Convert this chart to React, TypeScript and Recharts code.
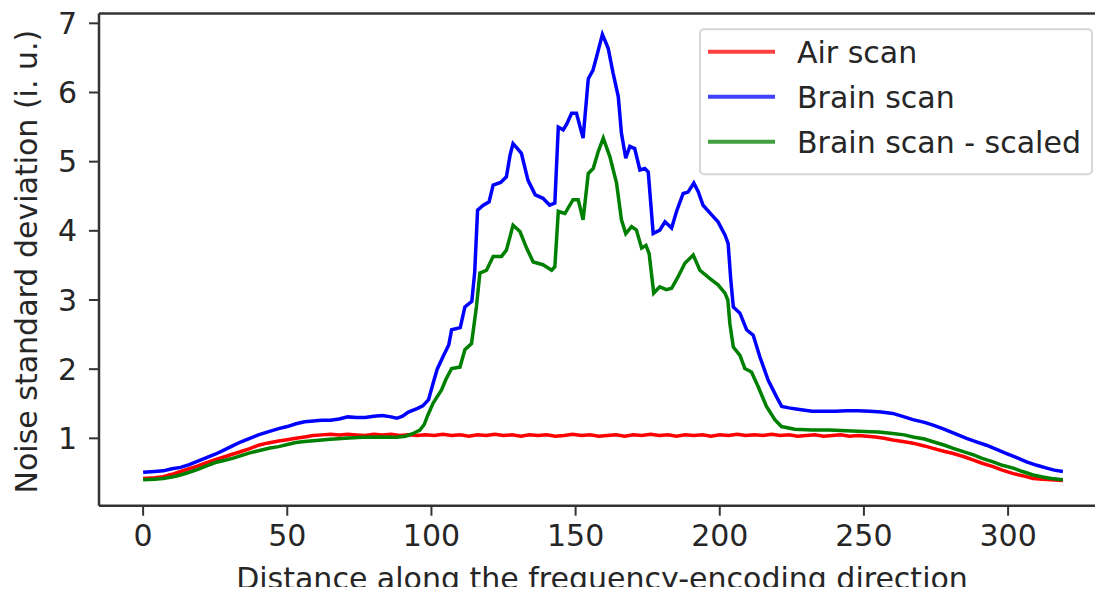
import { Label, Line, LineChart, ReferenceLine, XAxis, YAxis } from "recharts";

// [distance, noise std] pairs
const airScan: [number, number][] = [
  [0, 0.42], [4, 0.43], [7, 0.445], [10, 0.48], [13, 0.52], [16, 0.56], [19, 0.6], [22, 0.65], [25, 0.69], [28, 0.73],
  [31, 0.77], [34, 0.81], [37, 0.85], [40, 0.9], [43, 0.93], [47, 0.96], [50, 0.98], [53, 1.0], [56, 1.02], [59, 1.04],
  [62, 1.05], [65, 1.06], [68, 1.05], [71, 1.06], [74, 1.05], [77, 1.04], [80, 1.06], [83, 1.05], [86, 1.06], [89, 1.04],
  [92, 1.05], [95, 1.04], [98, 1.05], [101, 1.04], [104, 1.06], [107, 1.04], [110, 1.05], [113, 1.03], [116, 1.05], [119, 1.04],
  [122, 1.06], [125, 1.04], [128, 1.05], [131, 1.03], [134, 1.05], [137, 1.04], [140, 1.05], [143, 1.03], [146, 1.04], [149, 1.06],
  [152, 1.04], [155, 1.05], [158, 1.03], [161, 1.04], [164, 1.05], [167, 1.03], [170, 1.05], [173, 1.04], [176, 1.06], [179, 1.04],
  [182, 1.05], [185, 1.03], [188, 1.05], [191, 1.04], [194, 1.05], [197, 1.03], [200, 1.05], [203, 1.04], [206, 1.06], [209, 1.04],
  [212, 1.05], [215, 1.04], [218, 1.06], [221, 1.04], [224, 1.05], [227, 1.03], [230, 1.04], [233, 1.05], [236, 1.03], [239, 1.04],
  [242, 1.05], [245, 1.03], [248, 1.04], [251, 1.03], [254, 1.02], [257, 1.0], [260, 0.975], [264, 0.95], [267, 0.93], [271, 0.89],
  [274, 0.855], [278, 0.81], [281, 0.78], [285, 0.73], [288, 0.686], [291, 0.64], [294.8, 0.59], [298, 0.54], [301.8, 0.49], [305, 0.46],
  [308.7, 0.42], [312, 0.41], [315, 0.4], [319, 0.39],
];

const brainScan: [number, number][] = [
  [0, 0.51], [4, 0.52], [7, 0.53], [10, 0.56], [13, 0.58], [16, 0.62], [19, 0.67], [22, 0.72], [25, 0.77], [28, 0.83],
  [31, 0.89], [34, 0.95], [37, 1.0], [40, 1.05], [43, 1.09], [47, 1.14], [50, 1.17], [53, 1.21], [56, 1.24], [59, 1.25],
  [62, 1.26], [65, 1.26], [68, 1.28], [71, 1.31], [74, 1.3], [77, 1.3], [80, 1.32], [83, 1.33], [86, 1.31], [88, 1.29],
  [90, 1.32], [92, 1.38], [95, 1.43], [97, 1.47], [99, 1.56], [100.6, 1.8], [102, 2.0], [104, 2.18], [106, 2.35], [107, 2.57],
  [110, 2.6], [111.6, 2.9], [114, 2.98], [115, 3.4], [116, 4.3], [118, 4.37], [120, 4.42], [121.4, 4.66], [124, 4.7], [126, 4.78],
  [127.3, 5.1], [128.3, 5.26], [130, 5.18], [131.2, 5.12], [133.5, 4.73], [136, 4.52], [138.7, 4.47], [141, 4.37], [142.8, 4.4], [144, 5.5],
  [145.7, 5.46], [147, 5.55], [148.6, 5.7], [150.3, 5.7], [152.6, 5.34], [154.4, 6.2], [156, 6.32], [157.3, 6.52], [159.3, 6.84], [161.3, 6.64],
  [163, 6.28], [164.8, 5.94], [165.9, 5.41], [167.4, 5.05], [168.8, 5.22], [170.5, 5.19], [172.3, 4.88], [174, 4.9], [175.2, 4.85], [176.9, 3.96],
  [179.2, 4.01], [181, 4.13], [183.3, 4.04], [185, 4.28], [187.3, 4.54], [189, 4.56], [191, 4.69], [192.5, 4.57], [194.2, 4.37], [197.2, 4.23],
  [199.4, 4.13], [201.8, 3.94], [202.9, 3.82], [203.8, 3.3], [204.7, 2.9], [207, 2.81], [209.3, 2.57], [211.6, 2.49], [213.9, 2.18], [216.8, 1.84],
  [219.7, 1.6], [221.5, 1.46], [224, 1.44], [227, 1.42], [232, 1.39], [236, 1.39], [240, 1.39], [244, 1.4], [248, 1.4], [252, 1.39],
  [256, 1.38], [260, 1.36], [264, 1.31], [267, 1.27], [271, 1.23], [274, 1.19], [278, 1.13], [282, 1.06], [285.6, 1.0], [289, 0.95],
  [292.5, 0.9], [296, 0.84], [299.5, 0.78], [303, 0.72], [306.4, 0.66], [310, 0.61], [313.4, 0.57], [316, 0.54], [319, 0.52],
];

const brainScaled: [number, number][] = [
  [0, 0.4], [4, 0.41], [7, 0.42], [10, 0.44], [13, 0.47], [16, 0.51], [19, 0.55], [22, 0.6], [25, 0.65], [28, 0.68],
  [31, 0.71], [34, 0.75], [37, 0.79], [40, 0.82], [44, 0.86], [47, 0.88], [50, 0.91], [53, 0.94], [56, 0.955], [59, 0.965],
  [62, 0.975], [65, 0.985], [70, 1.0], [76, 1.015], [82, 1.02], [88, 1.015], [91, 1.03], [93.7, 1.07], [96, 1.12], [97.5, 1.2],
  [98.5, 1.31], [100.6, 1.51], [103.5, 1.7], [105, 1.85], [107, 2.01], [109.9, 2.03], [111.6, 2.28], [113.9, 2.37], [115.6, 2.9], [116.8, 3.39],
  [119.1, 3.43], [121.4, 3.63], [124.3, 3.63], [126, 3.72], [128.3, 4.08], [130.7, 3.99], [133, 3.75], [135.3, 3.55], [138.7, 3.51], [141.7, 3.43],
  [142.8, 3.48], [144, 4.28], [146.3, 4.25], [149.1, 4.45], [150.9, 4.45], [152.6, 4.16], [154.4, 4.83], [156.1, 4.9], [157.8, 5.14], [159.6, 5.34],
  [161.9, 5.07], [164.2, 4.69], [165.9, 4.16], [167.4, 3.96], [169.4, 4.06], [171.1, 4.01], [172.9, 3.75], [174.4, 3.79], [175.5, 3.67], [177.1, 3.1],
  [179.2, 3.19], [181.5, 3.15], [183.3, 3.17], [185.6, 3.34], [187.9, 3.53], [190.8, 3.65], [193.1, 3.43], [196.6, 3.31], [199.4, 3.22], [201.8, 3.1],
  [202.8, 3.0], [203.5, 2.66], [204.7, 2.32], [207, 2.2], [208.7, 2.01], [211, 1.96], [213.3, 1.75], [216.2, 1.46], [219.1, 1.27], [221.4, 1.17],
  [226, 1.13], [232, 1.12], [238, 1.12], [244, 1.11], [250, 1.1], [255, 1.09], [260, 1.07], [264, 1.05], [267, 1.02], [271, 0.99],
  [274, 0.95], [278, 0.9], [281, 0.855], [285, 0.8], [288, 0.76], [291, 0.71], [294.8, 0.66], [298, 0.61], [301.8, 0.57], [305, 0.52],
  [308.7, 0.47], [312, 0.44], [315, 0.42], [319, 0.4],
];

const xTicks = [0, 50, 100, 150, 200, 250, 300];
const yTicks = [1, 2, 3, 4, 5, 6, 7];
const X_DOMAIN: [number, number] = [-15.3, 335];
const Y_DOMAIN: [number, number] = [0.026, 7.142];

const FONT = "'DejaVu Sans', sans-serif";
const INK = "#262626";
const SPINE = "#333333";

const legendItems = [
  { name: "Air scan", color: "#ff4040" },
  { name: "Brain scan", color: "#4040ff" },
  { name: "Brain scan - scaled", color: "#40a040" },
];

const toRows = (pts: [number, number][]) => pts.map(([d, v]) => ({ d, v }));

function XTitle(props: any) {
  const vb = props.viewBox || {};
  const cx = (vb.x ?? 99) + (vb.width ?? 1010) / 2;
  return (
    <text x={cx - 2} y={589} textAnchor="middle" fontSize={30} fontFamily={FONT} fill={INK}>
      Distance along the frequency-encoding direction
    </text>
  );
}

function YTitle(props: any) {
  const vb = props.viewBox || {};
  const cy = (vb.y ?? 13.5) + (vb.height ?? 492) / 2 + 2;
  return (
    <text x={37} y={cy} transform={`rotate(-90, 37, ${cy})`} textAnchor="middle" fontSize={30} fontFamily={FONT} fill={INK}>
      Noise standard deviation (i. u.)
    </text>
  );
}

export default function App() {
  const tick = { fill: INK, fontSize: 30, fontFamily: FONT };
  return (
    <div style={{ position: "relative", width: 1103, height: 595, margin: -8, overflow: "hidden", background: "#fff" }}>
      <LineChart width={1130} height={595} margin={{ top: 13.5, right: 21, bottom: 29.3, left: 39 }}>
        <XAxis
          type="number"
          dataKey="d"
          domain={X_DOMAIN}
          allowDataOverflow
          ticks={xTicks}
          height={60}
          tick={tick}
          tickSize={10}
          tickMargin={9}
          axisLine={{ stroke: SPINE, strokeWidth: 2.5 }}
          tickLine={{ stroke: SPINE, strokeWidth: 2 }}
        >
          <Label content={<XTitle />} />
        </XAxis>
        <YAxis
          type="number"
          domain={Y_DOMAIN}
          allowDataOverflow
          ticks={yTicks}
          width={60}
          tick={tick}
          tickSize={10}
          tickMargin={12}
          axisLine={{ stroke: SPINE, strokeWidth: 2.5 }}
          tickLine={{ stroke: SPINE, strokeWidth: 2 }}
        >
          <Label content={<YTitle />} />
        </YAxis>
        <ReferenceLine y={Y_DOMAIN[1]} stroke={SPINE} strokeWidth={2.5} />
        <ReferenceLine x={X_DOMAIN[1]} stroke={SPINE} strokeWidth={2.5} />
        <Line data={toRows(airScan)} dataKey="v" name="Air scan" type="linear" stroke="#ff0000" strokeWidth={3.5} dot={false} isAnimationActive={false} />
        <Line data={toRows(brainScan)} dataKey="v" name="Brain scan" type="linear" stroke="#0000ff" strokeWidth={3.5} dot={false} isAnimationActive={false} />
        <Line data={toRows(brainScaled)} dataKey="v" name="Brain scan - scaled" type="linear" stroke="#008000" strokeWidth={3.5} dot={false} isAnimationActive={false} />
      </LineChart>
      <svg width={1103} height={595} style={{ position: "absolute", left: 0, top: 0, pointerEvents: "none" }}>
        <rect x={700} y={29.3} width={392} height={145} rx={4} fill="#fff" fillOpacity={0.8} stroke="#d6d6d6" strokeWidth={2} />
        {legendItems.map((item, i) => (
          <g key={item.name}>
            <line x1={708} x2={775} y1={51.7 + i * 45} y2={51.7 + i * 45} stroke={item.color} strokeWidth={4} />
            <text x={797} y={63.3 + i * 45} fontSize={30} fontFamily={FONT} fill={INK}>
              {item.name}
            </text>
          </g>
        ))}
      </svg>
    </div>
  );
}
